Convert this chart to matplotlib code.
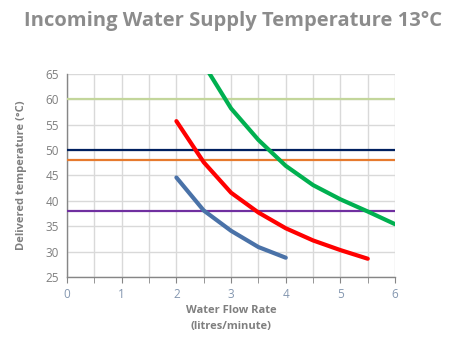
import matplotlib
matplotlib.use("Agg")
import matplotlib.pyplot as plt
from matplotlib.ticker import MultipleLocator

# Data
blue_x = [2, 2.5, 3, 3.5, 4]
blue_y = [44.6, 38.1, 34.1, 30.9, 28.8]
red_x = [2, 2.5, 3, 3.5, 4, 4.5, 5, 5.5]
red_y = [55.7, 47.6, 41.6, 37.7, 34.6, 32.2, 30.3, 28.6]
green_x = [2.5, 3, 3.5, 4, 4.5, 5, 5.5, 6]
green_y = [66.9, 58.2, 52.0, 46.9, 43.1, 40.3, 37.9, 35.4]
ref_levels = [60, 50, 48, 38]
ref_colors = ["#C3D69B", "#002060", "#E67A2E", "#7030A0"]
x_ticks = [0, 1, 2, 3, 4, 5, 6]
y_ticks = [25, 30, 35, 40, 45, 50, 55, 60, 65]

fig = plt.figure(figsize=(4.5, 3.47), dpi=100)
ax = fig.add_axes([0.149, 0.2017, 0.729, 0.5853])
ax.set_xlim(0, 6)
ax.set_ylim(25, 65)

for lvl, c in zip(ref_levels, ref_colors):
    ax.plot([0, 6], [lvl, lvl], color=c, lw=1.6, solid_capstyle="butt", zorder=3, clip_on=False)

ax.plot(blue_x, blue_y, color="#4A72A8", lw=3.0, solid_capstyle="round", zorder=4)
ax.plot(red_x, red_y, color="#FF0000", lw=3.0, solid_capstyle="round", zorder=4)
ax.plot(green_x, green_y, color="#00B050", lw=3.0, solid_capstyle="round", zorder=4)

ax.set_xticks(x_ticks)
ax.xaxis.set_minor_locator(MultipleLocator(0.5))
ax.set_yticks(y_ticks)
ax.grid(True, which="both", axis="x", color="#D9D9D9", lw=1.0, zorder=0)
ax.grid(True, which="major", axis="y", color="#D9D9D9", lw=1.0, zorder=0)
ax.set_axisbelow(True)

for s in ["top", "right"]:
    ax.spines[s].set_visible(False)
for s in ["left", "bottom"]:
    ax.spines[s].set_color("#868686")
    ax.spines[s].set_linewidth(1.0)

ax.tick_params(axis="x", which="both", direction="out", length=4, color="#868686",
               labelsize=8.5, labelcolor="#8497B0", pad=4)
ax.tick_params(axis="y", which="both", length=0, labelsize=8.5, labelcolor="#7F7F7F", pad=6)

font = "Open Sans"
for lab in ax.get_xticklabels() + ax.get_yticklabels():
    lab.set_family(font)

ax.set_ylabel("Delivered temperature (°C)", fontsize=8, fontweight="bold", color="#7F7F7F",
              family=font, labelpad=13)
ax.set_xlabel("Water Flow Rate\n(litres/minute)", fontsize=8, fontweight="bold", color="#7F7F7F",
              family=font, labelpad=3, linespacing=1.6)

fig.text(0.518, 0.94, "Incoming Water Supply Temperature 13°C", ha="center", va="center",
         fontsize=14.5, fontweight="bold", color="#8C8C8C", family=font)

fig.savefig("out.png", dpi=100)
